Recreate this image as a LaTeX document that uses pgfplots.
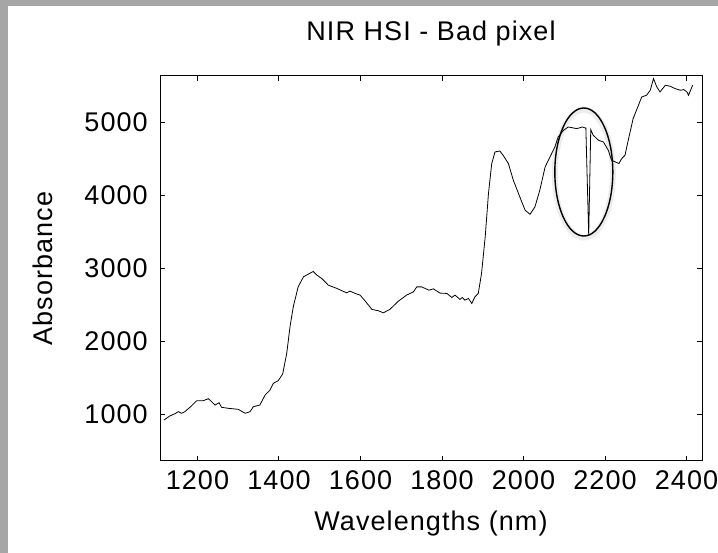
\documentclass[border=0pt]{standalone}
\usepackage{pgfplots}
\pgfplotsset{compat=1.18}
\usepackage{fontspec}
\setmainfont{Liberation Sans}[LetterSpace=4]
\definecolor{framegrey}{RGB}{166,166,166}
\begin{document}
\fontsize{27}{32}\selectfont
\begin{tikzpicture}
\useasboundingbox (0pt,0pt) rectangle (718pt,553pt);
\fill[framegrey] (0pt,0pt) rectangle (718pt,553pt);
\fill[white] (8pt,0pt) rectangle (718pt,547pt);
\begin{axis}[
  at={(160pt,92pt)}, anchor=south west,
  scale only axis, width=542pt, height=385pt,
  xmin=1108, xmax=2438, ymin=355, ymax=5640,
  xtick={1200,1400,...,2400}, ytick={1000,2000,...,5000},
  tick align=inside, major tick length=5pt,
  axis line style={line width=1pt}, every tick/.style={line width=1pt,black},
  /pgf/number format/assume math mode=true,
  /pgf/number format/1000 sep={},
  tick label style={font=\fontsize{27}{32}\selectfont},
  xticklabel style={anchor=base, inner sep=0pt, yshift=-29pt},
  yticklabel style={anchor=east, inner sep=0pt, xshift=-12pt},
  title={NIR HSI - Bad pixel},
  title style={at={(rel axis cs:0.5,1)}, anchor=base, inner sep=0pt, yshift=29pt, font=\fontsize{27}{32}\selectfont},
  xlabel={Wavelengths (nm)},
  xlabel style={at={(rel axis cs:0.5,0)}, anchor=base, inner sep=0pt, yshift=-70pt, font=\fontsize{27}{32}\selectfont},
  ylabel={Absorbance},
  ylabel style={at={(rel axis cs:0,0.5)}, anchor=center, inner sep=0pt, yshift=117pt, font=\fontsize{27}{32}\selectfont},
  clip=false,
]
\addplot[black, line width=0.8pt] coordinates {
(1118,918) (1132,973) (1145,1005) (1153,1032) (1161,1010) (1169,1032) (1185,1110) (1198,1183) (1214,1183)
(1227,1210) (1243,1123) (1253,1155) (1259,1092) (1276,1078) (1300,1064)
(1317,1010) (1329,1032) (1337,1100) (1353,1123) (1366,1261) (1378,1329)
(1386,1421) (1398,1457) (1409,1549) (1419,1833) (1427,2197) (1435,2471)
(1447,2745) (1460,2883) (1472,2920) (1484,2957) (1493,2906) (1505,2860)
(1521,2769) (1542,2724) (1566,2663) (1574,2687) (1587,2655) (1599,2632)
(1611,2554) (1628,2436) (1644,2417) (1656,2389) (1672,2436) (1693,2549)
(1713,2632) (1730,2677) (1738,2745) (1750,2745) (1768,2700) (1779,2718)
(1795,2660) (1812,2655) (1824,2600) (1832,2632) (1844,2573) (1850,2600) (1856,2563)
(1865,2586) (1873,2518) (1881,2609) (1889,2655) (1897,2929) (1906,3431)
(1914,4026) (1922,4437) (1930,4597) (1942,4611) (1950,4552) (1963,4437)
(1975,4209) (1991,3980) (2004,3797) (2016,3742) (2028,3843) (2040,4072)
(2053,4391) (2065,4529) (2077,4666) (2085,4803) (2098,4894) (2110,4940)
(2131,4917) (2144,4940) (2153,4925) (2160,3455) (2165,4905) (2171,4827)
(2184,4758) (2196,4735) (2208,4621) (2216,4484) (2225,4461) (2234,4438)
(2241,4506) (2249,4552) (2257,4758) (2269,5055) (2282,5238) (2290,5352)
(2302,5376) (2311,5444) (2319,5604) (2327,5490) (2335,5421) (2348,5513)
(2360,5499) (2372,5467) (2385,5444) (2393,5453) (2401,5421) (2405,5376)
(2415,5513)
};
\draw[line width=6pt, black, opacity=0.07] (axis cs:2148,4300) ellipse [x radius=29pt, y radius=64pt];
\draw[line width=1.4pt, black] (axis cs:2148,4322) ellipse [x radius=29pt, y radius=64pt];
\end{axis}
\end{tikzpicture}
\end{document}
